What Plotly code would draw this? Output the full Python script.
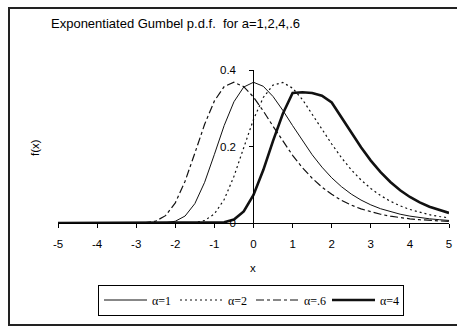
import plotly.graph_objects as go

# x grid (step 0.25 from -5 to 5)
x_vals = [-5 + 0.25 * i for i in range(41)]

f_a1 = [0, 0, 0, 0, 0, 0, 0, 0, 0, 0,
        0.0001, 0.0007, 0.0046, 0.0182, 0.0507, 0.1064, 0.1794, 0.2549, 0.3170, 0.3555,
        0.3679, 0.3574, 0.3307, 0.2945, 0.2546, 0.2151, 0.1785, 0.1461, 0.1182, 0.0949,
        0.0756, 0.0600, 0.0474, 0.0373, 0.0293, 0.0230, 0.0180, 0.0141, 0.0110, 0.0086, 0.0067]

f_a2 = [0, 0, 0, 0, 0, 0, 0, 0, 0, 0, 0, 0, 0,
        0.0001, 0.0012, 0.0065, 0.0237, 0.0614, 0.1219, 0.1969,
        0.2707, 0.3281, 0.3606, 0.3673, 0.3525, 0.3231, 0.2856, 0.2455, 0.2065, 0.1707,
        0.1393, 0.1125, 0.0902, 0.0718, 0.0569, 0.0449, 0.0353, 0.0277, 0.0217, 0.0170, 0.0133]

f_a06 = [0, 0, 0, 0, 0, 0, 0, 0,
         0.0001, 0.0008, 0.0049, 0.0192, 0.0527, 0.1093, 0.1826, 0.2580, 0.3192, 0.3567, 0.3679, 0.3565,
         0.3293, 0.2929, 0.2529, 0.2135, 0.1770, 0.1447, 0.1171, 0.0940, 0.0749, 0.0593,
         0.0469, 0.0369, 0.0290, 0.0228, 0.0178, 0.0139, 0.0109, 0.0086, 0.0067, 0.0052, 0.0040]

f_a4 = [0, 0, 0, 0, 0, 0, 0, 0, 0, 0, 0, 0, 0, 0, 0, 0, 0,
        0.0018, 0.0090, 0.0302,
        0.0733, 0.1384, 0.2145, 0.2855, 0.3400, 0.3420, 0.3400, 0.3330, 0.3150, 0.2766,
        0.2365, 0.1980, 0.1632, 0.1329, 0.1071, 0.0856, 0.0681, 0.0539, 0.0425, 0.0334, 0.0262]

x_ticks = [-5, -4, -3, -2, -1, 0, 1, 2, 3, 4, 5]
x_ticktext = ["-5", "-4", "-3", "-2", "-1", "0", "1", "2", "3", "4", "5"]
y_ticks = [0, 0.2, 0.4]
y_ticktext = ["0", "0.2", "0.4"]

W, H = 457, 327
L, R, T, B = 58, 449, 70, 223


def px2x(px):
    return (px - L) / (R - L)


def py2y(py):
    return (B - py) / (B - T)


fig = go.Figure()
fig.add_trace(go.Scatter(x=x_vals, y=f_a1, mode="lines", name="α=1",
                         line=dict(color="#111111", width=1)))
fig.add_trace(go.Scatter(x=x_vals, y=f_a2, mode="lines", name="α=2",
                         line=dict(color="#111111", width=1.2, dash="2px,3px")))
fig.add_trace(go.Scatter(x=x_vals, y=f_a06, mode="lines", name="α=.6",
                         line=dict(color="#111111", width=1.2, dash="8px,3px,3px,3px")))
fig.add_trace(go.Scatter(x=x_vals, y=f_a4, mode="lines", name="α=4",
                         line=dict(color="#111111", width=2.6)))

fig.update_layout(
    width=W, height=H,
    margin=dict(l=L, r=W - R, t=T, b=H - B, autoexpand=False),
    paper_bgcolor="white", plot_bgcolor="white",
    font=dict(family="Liberation Sans, Arial", size=11.5, color="black"),
    showlegend=True,
    legend=dict(orientation="h", x=px2x(98), y=py2y(284.5), xanchor="left", yanchor="top",
                bordercolor="black", borderwidth=1, bgcolor="white",
                font=dict(family="Liberation Serif, Times New Roman", size=12, color="black"),
                entrywidth=18, entrywidthmode="pixels", itemwidth=43,
                tracegroupgap=0),
    xaxis=dict(range=[-5, 5], tickvals=x_ticks, ticktext=x_ticktext, showgrid=False,
               zeroline=False, showline=True, linecolor="black", linewidth=1,
               ticks="outside", ticklen=4, tickcolor="black",
               ticklabelstandoff=6, ticklabeloverflow="allow", automargin=False),
    yaxis=dict(range=[0, 0.4], tickvals=y_ticks, ticktext=y_ticktext, showgrid=False,
               zeroline=False, showline=True, linecolor="black", linewidth=1,
               ticks="outside", ticklen=4, tickcolor="black", automargin=False,
               anchor="free", position=px2x(253.3), ticklabelstandoff=11),
    annotations=[
        dict(text="Exponentiated Gumbel p.d.f.\u00a0 for a=1,2,4,.6", xref="paper", yref="paper",
             x=px2x(49), y=py2y(23), xanchor="left", yanchor="middle", showarrow=False,
             font=dict(size=13)),
        dict(text="f(x)", xref="paper", yref="paper", x=px2x(35), y=py2y(148),
             xanchor="center", yanchor="middle", textangle=-90, showarrow=False,
             font=dict(size=11.5)),
        dict(text="x", xref="paper", yref="paper", x=px2x(253), y=py2y(268),
             xanchor="center", yanchor="middle", showarrow=False, font=dict(size=11.5)),
    ],
    shapes=[
        dict(type="rect", xref="paper", yref="paper", x0=px2x(9), x1=px2x(470),
             y0=py2y(325), y1=py2y(8), line=dict(color="#222222", width=2)),
    ],
)

fig.write_html("out.html", config={"displayModeBar": False},
               post_script="document.body.style.margin='0';")
